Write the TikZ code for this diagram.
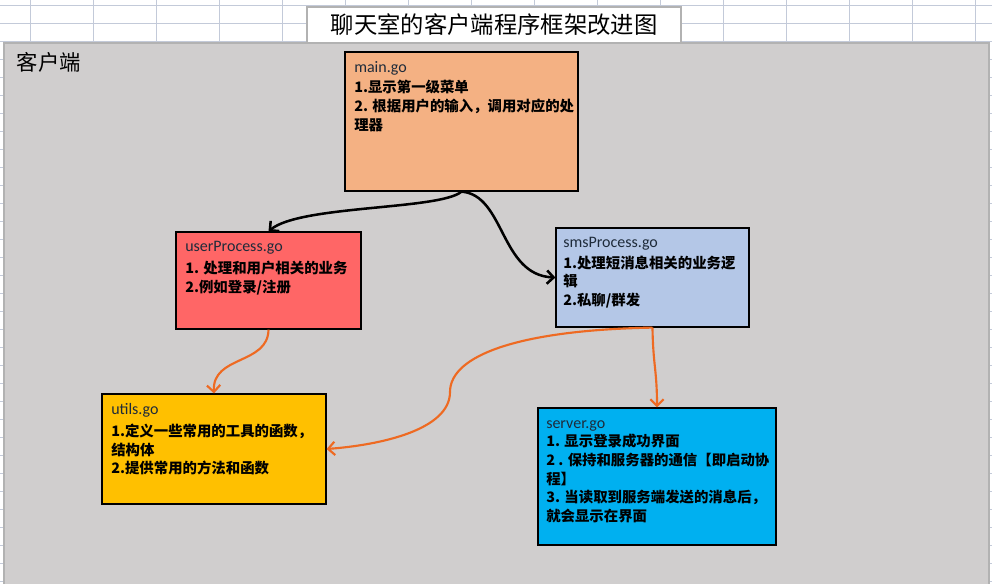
\documentclass[tikz,border=0pt]{standalone}
\usepackage{xcolor}
\usepackage{fontspec}
\setmainfont{Carlito}
\newfontfamily\cjk{Noto Sans CJK SC}
\usetikzlibrary{positioning,fit,arrows.meta}

\definecolor{sheetGray}{HTML}{D0CECE}
\definecolor{gridLine}{HTML}{C3CAD9}
\definecolor{frameGray}{HTML}{B2B2B2}
\definecolor{mainFill}{HTML}{F4B183}
\definecolor{userFill}{HTML}{FF6666}
\definecolor{smsFill}{HTML}{B4C7E7}
\definecolor{utilsFill}{HTML}{FFC000}
\definecolor{serverFill}{HTML}{00B0F0}
\definecolor{linkOrange}{HTML}{EE6A22}
\definecolor{fileName}{HTML}{1E2B3A}

\newcommand{\fname}[1]{{\normalfont\fontsize{12}{14}\selectfont\color{fileName}#1}}

\tikzset{
  procbox/.style={draw=black, line width=0.9pt, inner sep=0pt},
  boxtext/.style={anchor=north west, inner sep=0pt, align=left, font=\cjk\bfseries\fontsize{10.8}{14}\selectfont},
  blackarrow/.style={line width=1.9pt, -{Straight Barb[length=5pt,width=10pt]}},
  orangearrow/.style={draw=linkOrange, line width=1.6pt, -{Straight Barb[length=5pt,width=10pt]}},
}

\begin{document}
\begin{tikzpicture}[x=0.75pt,y=0.75pt,yscale=-1]
\useasboundingbox (0,0) rectangle (992,583);
\fill[white] (0,0) rectangle (992,583);
%Sheet grid
\foreach \y in {5,23,...,583} \draw[gridLine, line width=0.75pt] (0,\y) -- (992,\y);
\foreach \x in {30,93,...,975} \draw[gridLine, line width=0.75pt] (\x,0) -- (\x,43);
%Client area
\draw[frameGray, fill=sheetGray, line width=1pt] (4,43) rectangle (989,590);
%Title
\node[draw=frameGray, fill=white, line width=1pt, inner sep=0pt, fit={(307,7) (681,43)}] (title) {};
\node[font=\cjk\fontsize{17.5}{20}\selectfont, inner sep=0pt] (titleT) at (title.center) {聊天室的客户端程序框架改进图};
\node[anchor=west, font=\cjk\fontsize{16}{18}\selectfont] (client) at (12,62) {客户端};

%Flowchart: Process
\node[procbox, fill=mainFill, fit={(345,52) (578,191)}] (main) {};
%Flowchart: Process
\node[procbox, fill=userFill, fit={(176,232) (361,329)}] (user) {};
%Flowchart: Process
\node[procbox, fill=smsFill, fit={(556,228) (749,327)}] (sms) {};
%Flowchart: Process
\node[procbox, fill=utilsFill, fit={(102,394) (326,504)}] (utils) {};
%Flowchart: Process
\node[procbox, fill=serverFill, fit={(538,408) (776,545)}] (server) {};

% Text Node
\node[boxtext] (mainT) at (354,61) {\fname{main.go}\\[1.5pt]
  1.显示第一级菜单\\
  2. 根据用户的输入，调用对应的处\\
  理器};
\node[boxtext] (userT) at (185,241) {\fname{userProcess.go}\\[2.5pt]
  1. 处理和用户相关的业务\\
  2.例如登录/注册};
\node[boxtext] (smsT) at (563,237) {\fname{smsProcess.go}\\[1.5pt]
  1.处理短消息相关的业务逻\\
  辑\\
  2.私聊/群发};
\node[boxtext] (utilsT) at (111,403) {\fname{utils.go}\\[2.5pt]
  1.定义一些常用的工具的函数，\\
  结构体\\
  2.提供常用的方法和函数};
\node[boxtext] (serverT) at (546,420) {\fname{server.go}\\[0pt]
  1. 显示登录成功界面\\
  2 . 保持和服务器的通信【即启动协\\
  程】\\
  3. 当读取到服务端发送的消息后，\\
  就会显示在界面};

%Connectors
\draw[blackarrow] (main.south) .. controls (440,210) and (300,205) .. (user.north);
\draw[blackarrow] (main.south) .. controls (505,195) and (500,275) .. (sms.west);
\draw[orangearrow] (user.south) .. controls (268,365) and (212,355) .. (utils.north);
\draw[orangearrow] (sms.south) .. controls (520,330) and (450,355) .. (450,392) .. controls (450,430) and (380,445) .. (utils.east);
\draw[orangearrow] (sms.south) .. controls (653,365) and (657,370) .. (server.north);
\end{tikzpicture}
\end{document}
